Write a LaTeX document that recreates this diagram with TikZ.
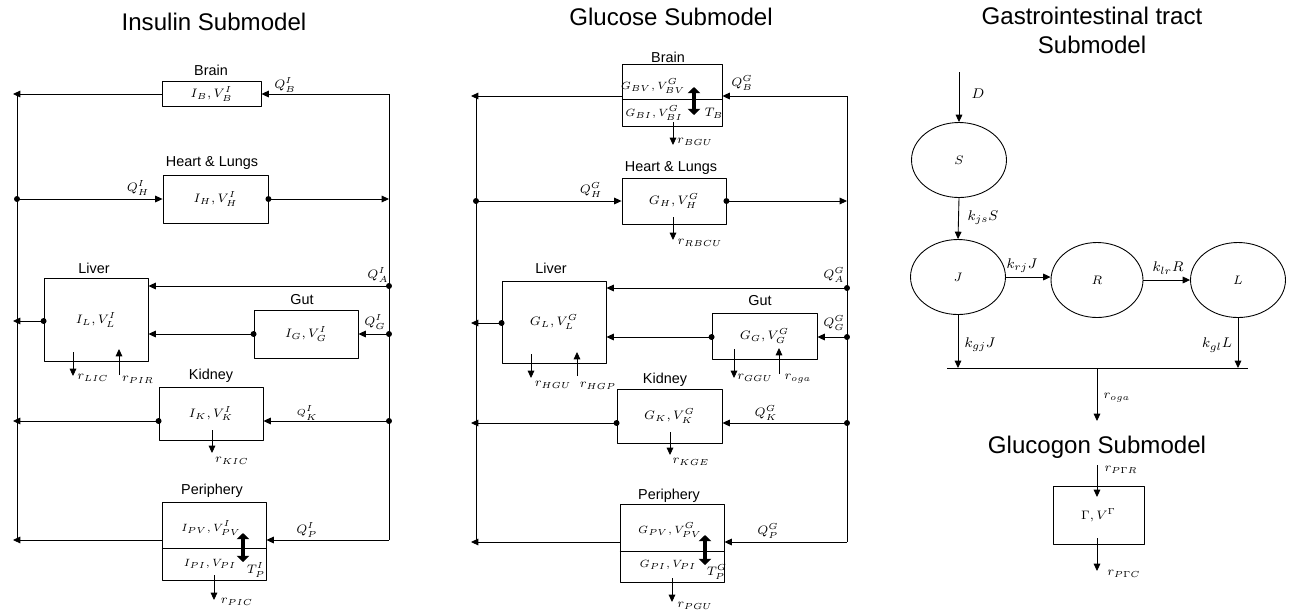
\documentclass[tikz,border=0pt]{standalone}
\usepackage{fontspec}
\setsansfont{Liberation Sans}
\usetikzlibrary{arrows.meta,shapes.geometric}
\tikzset{
	organ/.style={draw,inner sep=0pt,font=\fontsize{7.5}{9}\selectfont},
	pool/.style={draw,ellipse,inner sep=0pt,minimum width=1.9cm,minimum height=1.5cm,font=\fontsize{7}{9}\selectfont},
	flow/.style={-{Triangle[length=4.2pt,width=3.8pt]}},
	exch/.style={{Triangle[length=3.5pt,width=7pt]}-{Triangle[length=3.5pt,width=7pt]},line width=2.2pt},
	title/.style={font=\sffamily\fontsize{13.7}{16.5}\selectfont,align=center},
	tag/.style={font=\sffamily\fontsize{8.2}{10}\selectfont},
	qty/.style={font=\fontsize{7}{8}\selectfont,inner sep=0pt},
	split/.style={font=\fontsize{6.3}{7}\selectfont,inner sep=0pt},
}
\begin{document}
\begin{tikzpicture}[x=0.02cm,y=-0.02cm,line width=0.5pt,line join=round]
	\useasboundingbox (0,0) rectangle (1292,613);
	% ---------- insulin submodel ----------
	\node[title] at (214,22) {Insulin Submodel};
	\node[organ,minimum width=1.98cm,minimum height=0.5cm] (bI) at (211.5,94) {$I_B,V_B^I$};
	\node[organ,minimum width=2.1cm,minimum height=0.96cm] (hI) at (215.5,199) {$I_H,V_H^I$};
	\node[organ,minimum width=2.08cm,minimum height=1.66cm] (lI) at (96,320) {$I_L,V_L^I$};
	\node[organ,minimum width=2.08cm,minimum height=0.96cm] (gI) at (306,334) {$I_G,V_G^I$};
	\node[organ,minimum width=2.08cm,minimum height=1.06cm] (kI) at (211,413.5) {$I_K,V_K^I$};
	\node[organ,minimum width=2.08cm,minimum height=1.56cm] (pI) at (214,541) {};
	\node[tag] at (211,70) {Brain};
	\node[tag] at (212,163) {Heart \& Lungs};
	\node[tag] at (94,268) {Liver};
	\node[tag] at (302,300) {Gut};
	\node[tag] at (211,376) {Kidney};
	\node[tag] at (212,491) {Periphery};
	\coordinate (iRB) at (389,94);
	\coordinate (iRH) at (389,199);
	\coordinate (iRA) at (389,286);
	\coordinate (iRG) at (389,334);
	\coordinate (iRK) at (389,421);
	\coordinate (iRP) at (389,540);
	\coordinate (iLT) at (17,94);
	\coordinate (iLH) at (17,199);
	\coordinate (iLE) at (17,540);
	\coordinate (iLB) at (13,94);
	\coordinate (iLL) at (13,321);
	\coordinate (iLK) at (13,421);
	\coordinate (iLP) at (13,540);
	\draw (iRB) -- (iRP);
	\draw (iLT) -- (iLE);
	\draw[flow] (iRB) -- (bI.east);
	\draw[flow] (bI.west) -- (iLB);
	\draw[flow] (iLH) -- (hI.west);
	\draw[flow] (hI.east) -- (iRH);
	\draw[flow] (iRA) -- (lI.east |- iRA);
	\draw[flow] (iRG) -- (gI.east);
	\draw[flow] (gI.west) -- (lI.east |- gI.west);
	\draw[flow] (lI.west |- iLL) -- (iLL);
	\draw[flow] (iRK) -- (kI.east |- iRK);
	\draw[flow] (kI.west |- iRK) -- (iLK);
	\draw[flow] (iRP) -- (pI.east |- iRP);
	\draw[flow] (pI.west |- iRP) -- (iLP);
	\draw (pI.west |- 0,548) -- (pI.east |- 0,548);
	\foreach \p in {iLH,hI.east,iRA,iRG,gI.west,lI.west |- iLL,iRK,kI.west |- iRK}
		\fill (\p) circle (1.7pt);
	\coordinate (iTa) at (243,533);
	\coordinate (iTb) at (243,562);
	\draw[exch] (iTa) -- (iTb);
	\node[qty] at (285,85) {$Q_B^I$};
	\node[qty] at (138,188) {$Q_H^I$};
	\node[qty] at (378,275) {$Q_A^I$};
	\node[qty] at (375,322) {$Q_G^I$};
	\node[qty,font=\fontsize{5}{6}\selectfont] at (307,413) {$Q_K^I$};
	\node[qty] at (307,530) {$Q_P^I$};
	\node[split] at (211,528) {$I_{PV},V_{PV}^I$};
	\node[split] at (210,564) {$I_{PI},V_{PI}$};
	\node[qty] at (256,570) {$T_P^I$};
	% ---------- glucose submodel ----------
	\node[title] at (671,17) {Glucose Submodel};
	\node[organ,minimum width=2cm,minimum height=1.24cm] (bG) at (672,95) {};
	\node[organ,minimum width=2.08cm,minimum height=0.92cm] (hG) at (674,201) {$G_H,V_H^G$};
	\node[organ,minimum width=2.08cm,minimum height=1.64cm] (lG) at (554,322) {$G_L,V_L^G$};
	\node[organ,minimum width=2.1cm,minimum height=0.92cm] (gG) at (764.5,336) {$G_G,V_G^G$};
	\node[organ,minimum width=2.1cm,minimum height=1.08cm] (kG) at (669.5,416) {$G_K,V_K^G$};
	\node[organ,minimum width=2.08cm,minimum height=1.56cm] (pG) at (672,543) {};
	\node[tag] at (668,57) {Brain};
	\node[tag] at (671,168) {Heart \& Lungs};
	\node[tag] at (551,268) {Liver};
	\node[tag] at (760,301) {Gut};
	\node[tag] at (665,380) {Kidney};
	\node[tag] at (669,496) {Periphery};
	\coordinate (gRB) at (847,96);
	\coordinate (gRH) at (847,201);
	\coordinate (gRA) at (847,288);
	\coordinate (gRG) at (847,337);
	\coordinate (gRK) at (847,423);
	\coordinate (gRP) at (847,542);
	\coordinate (gLT) at (476,96);
	\coordinate (gLH) at (476,201);
	\coordinate (gLE) at (476,542);
	\coordinate (gLB) at (471,96);
	\coordinate (gLL) at (471,323);
	\coordinate (gLK) at (471,423);
	\coordinate (gLP) at (471,542);
	\draw (gRB) -- (gRP);
	\draw (gLT) -- (gLE);
	\draw[flow] (gRB) -- (bG.east |- gRB);
	\draw[flow] (bG.west |- gRB) -- (gLB);
	\draw[flow] (gLH) -- (hG.west);
	\draw[flow] (hG.east) -- (gRH);
	\draw[flow] (gRA) -- (lG.east |- gRA);
	\draw[flow] (gRG) -- (gG.east |- gRG);
	\draw[flow] (gG.west |- gRG) -- (lG.east |- gRG);
	\draw[flow] (lG.west |- gLL) -- (gLL);
	\draw[flow] (gRK) -- (kG.east |- gRK);
	\draw[flow] (kG.west |- gRK) -- (gLK);
	\draw[flow] (gRP) -- (pG.east |- gRP);
	\draw[flow] (pG.west |- gRP) -- (gLP);
	\draw (bG.west |- 0,99) -- (bG.east |- 0,99);
	\draw (pG.west |- 0,551) -- (pG.east |- 0,551);
	\foreach \p in {gLH,hG.east,gRA,gRG,gG.west |- gRG,lG.west |- gLL,gRK,kG.west |- gRK}
		\fill (\p) circle (1.7pt);
	\coordinate (gBa) at (694,87);
	\coordinate (gBb) at (694,115);
	\draw[exch] (gBa) -- (gBb);
	\coordinate (gPa) at (705,535);
	\coordinate (gPb) at (705,565);
	\draw[exch] (gPa) -- (gPb);
	\node[qty] at (742,83) {$Q_B^G$};
	\node[qty] at (591,190) {$Q_H^G$};
	\node[qty] at (834,275) {$Q_A^G$};
	\node[qty] at (834,323) {$Q_G^G$};
	\node[qty] at (766,413) {$Q_K^G$};
	\node[qty] at (768,531) {$Q_P^G$};
	\node[split] at (653,86) {$G_{BV},V_{BV}^G$};
	\node[split] at (654,113) {$G_{BI},V_{BI}^G$};
	\node[qty] at (714,113) {$T_B$};
	\node[split] at (670,530) {$G_{PV},V_{PV}^G$};
	\node[split] at (668,565) {$G_{PI},V_{PI}$};
	\node[qty] at (717,572) {$T_P^G$};
	% uptake and production rates
	\foreach \x/\ya/\yb/\lx/\ly/\t in {73/352/376/93/378/r_{LIC}, 119/375/349/138/380/r_{PIR},
		212/430/453/232/461/r_{KIC}, 214/575/600/237/602/r_{PIC}, 673/122/145/695/142/r_{BGU},
		673/217/240/700/243/r_{RBCU}, 531/354/378/553/385/r_{HGU}, 577/376/352/598/386/r_{HGP},
		734/349/378/755/378/r_{GGU}, 779/374/348/798/379/r_{oga}, 670/432/455/691/462/r_{KGE},
		672/578/602/695/606/r_{PGU}}{
		\coordinate (ra) at (\x,\ya);
		\coordinate (rb) at (\x,\yb);
		\draw[flow] (ra) -- (rb);
		\node[qty] at (\lx,\ly) {$\t$};
	}
	% ---------- gastrointestinal tract ----------
	\node[title] at (1092,30) {Gastrointestinal tract\\Submodel};
	\node[pool] (S) at (959,160) {$S$};
	\node[pool] (J) at (958,277) {$J$};
	\node[pool,minimum width=1.84cm] (R) at (1097,280) {$R$};
	\node[pool] (L) at (1238,280) {$L$};
	\coordinate (dose) at (959,72);
	\coordinate (jg) at (958,368);
	\coordinate (lg) at (1238,368);
	\coordinate (bl) at (947,368);
	\coordinate (br) at (1248,368);
	\coordinate (mid) at (1097,368);
	\coordinate (oga) at (1097,421);
	\draw[flow] (dose) -- (S.north);
	\draw[flow] (S.south) -- (J.north);
	\draw[flow] (J.east) -- (R.west |- J.east);
	\draw[flow] (R.east) -- (L.west);
	\draw[flow] (J.south) -- (jg);
	\draw[flow] (L.south) -- (lg);
	\draw (bl) -- (br);
	\draw[flow] (mid) -- (oga);
	\node[qty,font=\fontsize{8}{9}\selectfont] at (978,94) {$D$};
	\node[qty,font=\fontsize{8}{9}\selectfont] at (983,218) {$k_{js}S$};
	\node[qty,font=\fontsize{8}{9}\selectfont] at (1022,266) {$k_{rj}J$};
	\node[qty,font=\fontsize{8}{9}\selectfont] at (1168,268) {$k_{lr}R$};
	\node[qty,font=\fontsize{8}{9}\selectfont] at (980,345) {$k_{gj}J$};
	\node[qty,font=\fontsize{8}{9}\selectfont] at (1217,345) {$k_{gl}L$};
	\node[qty] at (1117,398) {$r_{oga}$};
	% ---------- glucagon ----------
	\node[title] at (1097,447) {Glucogon Submodel};
	\node[organ,minimum width=1.82cm,minimum height=1.16cm] (gc) at (1098.5,515) {$\Gamma,V^\Gamma$};
	\coordinate (gcin) at (1097,465);
	\coordinate (gcup) at (1097,497);
	\coordinate (gcdn) at (1097,538);
	\coordinate (gcout) at (1097,571);
	\draw[flow] (gcin) -- (gcup);
	\draw[flow] (gcdn) -- (gcout);
	\node[qty] at (1121,470) {$r_{P\Gamma R}$};
	\node[qty] at (1124,574) {$r_{P\Gamma C}$};
\end{tikzpicture}
\end{document}
